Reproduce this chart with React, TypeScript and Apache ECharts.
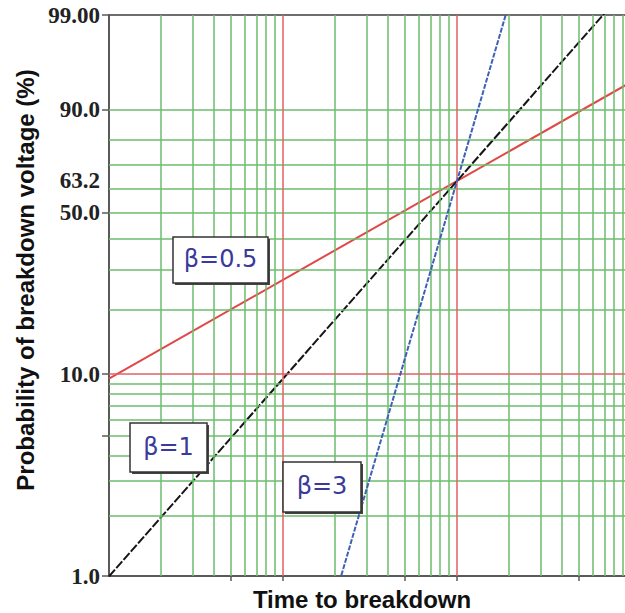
import React, { useEffect, useRef } from 'react';
import * as echarts from 'echarts';

// Weibull lines: shape parameters and the shared characteristic time (63.2 % point)
const shapeLabels = ['β=0.5', 'β=1', 'β=3'];
const shapes = [0.5, 1, 3];
const scaleEta = 100;

// Axis extents (time in arbitrary units, probability in %)
const timeMin = 1;
const timeMax = 1000;
const probMin = 1;
const probMax = 99.9;

// Probability axis labels
const probTickValues = [1, 10, 50, 63.2, 90, 99.9];
const probTickLabels = ['1.0', '10.0', '50.0', '63.2', '90.0', '99.00'];
const probTickMarks = [1, 5, 10, 50, 90, 99.9];
const timeTickMarks = [5, 10, 50, 100, 500];

// Paper grid
const probGridGreen = [2, 3, 4, 5, 6, 7, 8, 9, 20, 30, 40, 50, 60, 70, 80, 90];
const probGridRed = [10];
const timeGridGreen = [
  2, 3, 4, 5, 6, 7, 8, 9,
  20, 30, 40, 50, 60, 70, 80, 90,
  200, 300, 400, 500, 600, 700, 800, 900,
];
const timeGridRed = [10, 100];

const lineColors = ['#e04848', '#151515', '#3f60b4'];
const lineWidths = [2, 2, 2];
const lineTypes: any[] = ['solid', [9, 2], [5, 1.5]];

// Weibull probability transform and log time transform
const wb = (p: number) => Math.log(-Math.log(1 - p / 100));
const lg = (t: number) => Math.log10(t);

const GREEN = '#6cbc6c';
const RED = '#e06262';
const AXIS = '#5a5a5a';

function labelBox(text: string, x: number, y: number, w: number, h: number) {
  return {
    type: 'group',
    x,
    y,
    children: [
      { type: 'rect', z: 100, shape: { x: 2, y: 2, width: w, height: h }, style: { fill: '#444' } },
      {
        type: 'rect',
        z: 101,
        shape: { x: 0, y: 0, width: w, height: h },
        style: { fill: '#fff', stroke: '#333', lineWidth: 1.5 },
      },
      {
        type: 'text',
        z: 102,
        x: w / 2,
        y: h / 2 - 1,
        style: {
          text,
          fill: '#3a3a9c',
          font: '24px "DejaVu Sans"',
          textAlign: 'center',
          textVerticalAlign: 'middle',
        },
      },
    ],
  };
}

export default function App() {
  const ref = useRef<HTMLDivElement>(null);

  useEffect(() => {
    const chart = echarts.init(ref.current!, null, { renderer: 'svg' });

    const vLines = (vals: number[], color: string) =>
      vals.map((v) => ({ xAxis: lg(v), lineStyle: { color, width: 1.5, type: 'solid' } }));
    const hLines = (vals: number[], color: string) =>
      vals.map((v) => ({ yAxis: wb(v), lineStyle: { color, width: 1.5, type: 'solid' } }));

    const tickLabel = (v: number) => {
      let best = 0;
      probTickValues.forEach((p, i) => {
        if (Math.abs(wb(p) - v) < Math.abs(wb(probTickValues[best]) - v)) best = i;
      });
      return probTickLabels[best];
    };

    const gridSeries = (data: any[], z: number) => ({
      type: 'line',
      data: [],
      silent: true,
      z,
      markLine: {
        silent: true,
        symbol: ['none', 'none'],
        label: { show: false },
        emphasis: { disabled: true },
        data,
      },
    });

    const option: any = {
      animation: false,
      backgroundColor: '#ffffff',
      grid: {
        left: 109,
        top: 15,
        right: 1,
        bottom: 37,
        show: true,
        borderColor: '#6e6e6e',
        borderWidth: 2,
      },
      xAxis: {
        type: 'value',
        min: lg(timeMin),
        max: lg(timeMax),
        axisLine: { show: true, onZero: false, lineStyle: { color: AXIS, width: 2 } },
        axisTick: {
          show: true,
          customValues: timeTickMarks.map(lg),
          length: 5,
          lineStyle: { color: AXIS, width: 1.5 },
        },
        axisLabel: { show: false },
        splitLine: { show: false },
      },
      yAxis: {
        type: 'value',
        min: wb(probMin),
        max: wb(probMax),
        axisLine: { show: true, onZero: false, lineStyle: { color: AXIS, width: 2 } },
        axisTick: {
          show: true,
          customValues: probTickMarks.map(wb),
          length: 7,
          lineStyle: { color: AXIS, width: 1.5 },
        },
        axisLabel: {
          customValues: probTickValues.map(wb),
          formatter: (v: number) => tickLabel(v),
          fontFamily: '"Liberation Serif"',
          fontWeight: 'bold',
          fontSize: 23,
          color: '#222',
          margin: 9,
          padding: [4, 0, 0, 0],
        },
        splitLine: { show: false },
      },
      series: [
        gridSeries([...vLines(timeGridGreen, GREEN), ...hLines(probGridGreen, GREEN)], 1),
        gridSeries([...vLines(timeGridRed, RED), ...hLines(probGridRed, RED)], 2),
        ...shapes.map((b, i) => ({
          type: 'line',
          name: shapeLabels[i],
          z: 3 + i,
          showSymbol: false,
          silent: true,
          clip: true,
          lineStyle: { color: lineColors[i], width: lineWidths[i], type: lineTypes[i] },
          data: [timeMin, timeMax].map((t) => [lg(t), b * Math.log(t / scaleEta)]),
        })),
      ],
      graphic: [
        {
          type: 'text',
          x: 25,
          y: 280,
          rotation: Math.PI / 2,
          style: {
            text: 'Probability of breakdown voltage (%)',
            font: 'bold 24px "Liberation Sans"',
            fill: '#111',
            textAlign: 'center',
            textVerticalAlign: 'middle',
          },
        },
        {
          type: 'text',
          x: 362,
          y: 599,
          style: {
            text: 'Time to breakdown',
            font: 'bold 24px "Liberation Sans"',
            fill: '#111',
            textAlign: 'center',
            textVerticalAlign: 'middle',
          },
        },
        labelBox(shapeLabels[0], 173, 237, 95, 46),
        labelBox(shapeLabels[1], 130, 423, 77, 49),
        labelBox(shapeLabels[2], 283, 462, 78, 50),
      ],
    };

    chart.setOption(option);
    return () => chart.dispose();
  }, []);

  return (
    <div
      style={{
        position: 'fixed',
        left: 0,
        top: 0,
        width: 625,
        height: 613,
        overflow: 'hidden',
        background: '#fff',
      }}
    >
      <div ref={ref} style={{ width: 632, height: 613 }} />
    </div>
  );
}
